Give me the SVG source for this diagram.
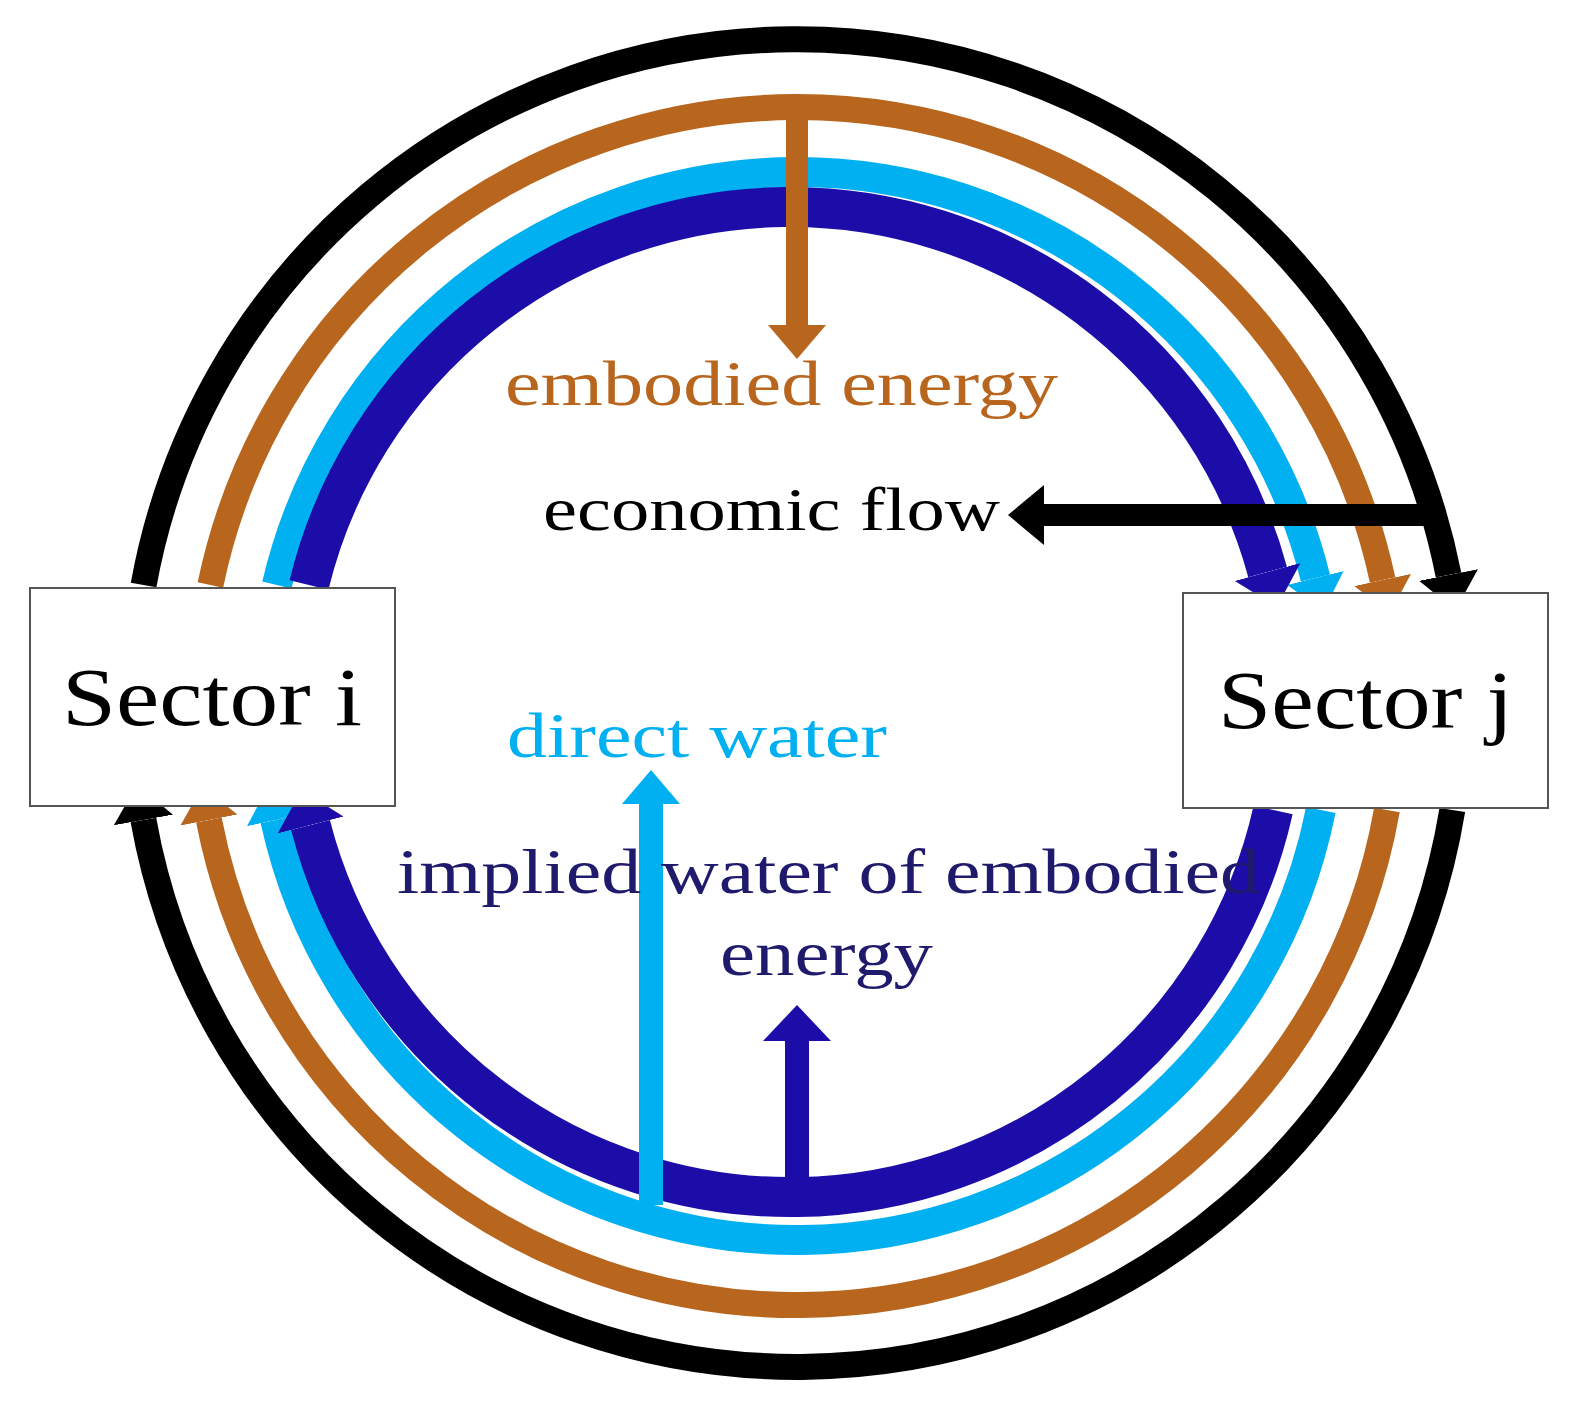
<svg xmlns="http://www.w3.org/2000/svg" width="1579" height="1408" viewBox="0 0 1579 1408">
<style>
.arc{fill:none;stroke-linecap:butt}
.t{font-family:"Liberation Serif",serif}
.box{fill:#fff;stroke:#555;stroke-width:2}
</style>
<defs>
<marker id="mk" markerUnits="userSpaceOnUse" markerWidth="40" markerHeight="64" viewBox="0 -32 40 64" refX="0" refY="0" orient="auto"><path d="M0,-30 L36,0 L0,30 z" fill="#000"/></marker>
<marker id="mb" markerUnits="userSpaceOnUse" markerWidth="40" markerHeight="64" viewBox="0 -32 40 64" refX="0" refY="0" orient="auto"><path d="M0,-29 L34,0 L0,29 z" fill="#b8651e"/></marker>
<marker id="ml" markerUnits="userSpaceOnUse" markerWidth="40" markerHeight="64" viewBox="0 -32 40 64" refX="0" refY="0" orient="auto"><path d="M0,-29 L34,0 L0,29 z" fill="#00b0f0"/></marker>
<marker id="md" markerUnits="userSpaceOnUse" markerWidth="40" markerHeight="72" viewBox="0 -36 40 72" refX="0" refY="0" orient="auto"><path d="M0,-34 L36,0 L0,34 z" fill="#1c0ca8"/></marker>
</defs>
<rect width="1579" height="1408" fill="#fff"/>
<g id="connectors">
<path class="arc" stroke="#000" stroke-width="26" marker-end="url(#mk)" d="M143.6,585 A664,664 0 0 1 1448.5,575"/>
<path class="arc" stroke="#000" stroke-width="26" marker-end="url(#mk)" d="M1452.3,810 A664,664 0 0 1 143.4,820"/>
<path class="arc" stroke="#b8651e" stroke-width="26" marker-end="url(#mb)" d="M210.4,585 A599,599 0 0 1 1382.6,580"/>
<path class="arc" stroke="#b8651e" stroke-width="26" marker-end="url(#mb)" d="M1386.9,810 A599,599 0 0 1 208.9,820"/>
<path class="arc" stroke="#00b0f0" stroke-width="30" marker-end="url(#ml)" d="M276.9,585 A534,534 0 0 1 1315.4,578"/>
<path class="arc" stroke="#00b0f0" stroke-width="30" marker-end="url(#ml)" d="M1320.8,810 A534,534 0 0 1 275.3,820"/>
<path class="arc" stroke="#1c0ca8" stroke-width="40" marker-end="url(#md)" d="M309,585 A495,495 0 0 1 1267.6,572"/>
<path class="arc" stroke="#1c0ca8" stroke-width="40" marker-end="url(#md)" d="M1273.1,810 A495,495 0 0 1 310.5,825"/>
<path class="arc" stroke="#b8651e" stroke-width="22" marker-end="url(#mb)" d="M797,100 L797,325"/>
<path class="arc" stroke="#000" stroke-width="22" marker-end="url(#mk)" d="M1425,515 L1044,515"/>
<path class="arc" stroke="#00b0f0" stroke-width="24" marker-end="url(#ml)" d="M651,1205 L651,804"/>
<path class="arc" stroke="#1c0ca8" stroke-width="24" marker-end="url(#md)" d="M797,1180 L797,1041"/>
</g>
<g id="sector-i"><rect class="box" x="30" y="588" width="365" height="218"/><text class="t" x="62" y="725" font-size="82" textLength="300" lengthAdjust="spacingAndGlyphs">Sector i</text></g>
<g id="sector-j"><rect class="box" x="1183" y="593" width="365" height="215"/><text class="t" x="1218" y="728" font-size="82" textLength="295" lengthAdjust="spacingAndGlyphs">Sector j</text></g>
<g id="labels">
<text class="t" x="505" y="405" font-size="64" fill="#b8651e" textLength="553" lengthAdjust="spacingAndGlyphs">embodied energy</text>
<text class="t" x="543" y="530" font-size="62" fill="#000" textLength="457" lengthAdjust="spacingAndGlyphs">economic flow</text>
<text class="t" x="507" y="757" font-size="64" fill="#00b0f0" textLength="380" lengthAdjust="spacingAndGlyphs">direct water</text>
<text class="t" x="397" y="893" font-size="64" fill="#1f1a6b" textLength="863" lengthAdjust="spacingAndGlyphs">implied water of embodied</text>
<text class="t" x="720" y="975" font-size="64" fill="#1f1a6b" textLength="213" lengthAdjust="spacingAndGlyphs">energy</text>
</g>
</svg>
